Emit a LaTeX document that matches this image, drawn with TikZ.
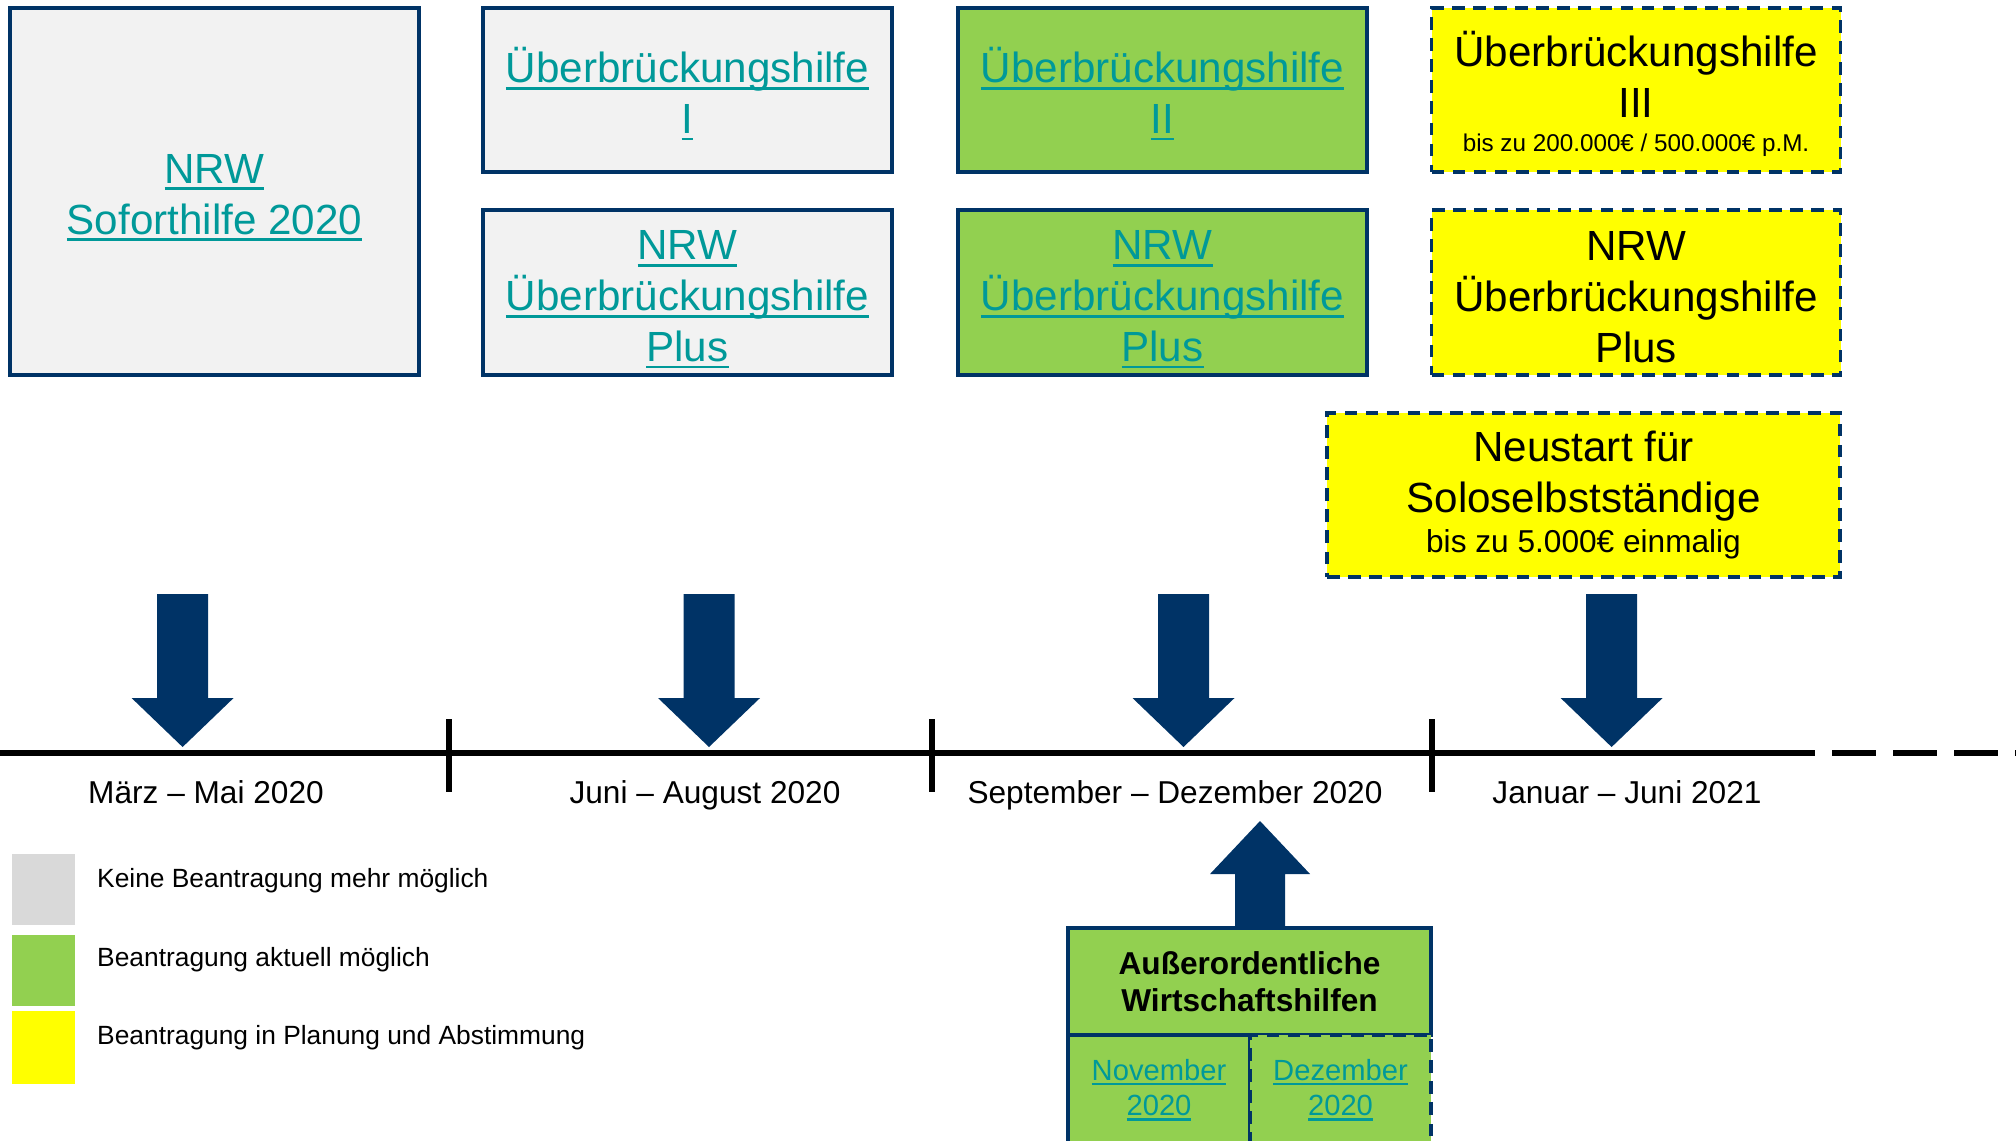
\documentclass[tikz,border=0pt]{standalone}
\usepackage{fontspec}
\setmainfont{Liberation Sans}

\definecolor{navy}{RGB}{0,51,102}
\definecolor{linkteal}{RGB}{0,153,153}
\definecolor{paleGrey}{RGB}{242,242,242}
\definecolor{legendGrey}{RGB}{217,217,217}
\definecolor{okGreen}{RGB}{146,208,80}
\definecolor{planYellow}{RGB}{255,255,0}

% underlined link text
\newcommand{\lnk}[1]{{\color{linkteal}\setbox0=\hbox{#1}\rlap{\rule[-0.16em]{\wd0}{0.07em}}\box0}}
% strut for the first line of a box
\newcommand{\topstrut}[1][12.3pt]{\rule{0pt}{#1}}

\begin{document}
\begin{tikzpicture}[
        greybox/.style={rectangle, draw=navy, line width=1.1pt, fill=paleGrey, minimum width=4.09cm, minimum height=1.64cm, inner sep=0pt, align=center, font=\fontsize{12}{14.5}\selectfont},
        greenbox/.style={greybox, fill=okGreen},
        yellowbox/.style={greybox, fill=planYellow, dash pattern=on 3.6pt off 2.4pt},
        periodlabel/.style={anchor=base, inner sep=0pt, font=\fontsize{9}{11}\selectfont},
        keysquare/.style={rectangle, minimum width=0.63cm, minimum height=0.71cm, inner sep=0pt},
        keytext/.style={anchor=west, inner sep=0pt, font=\fontsize{7.5}{9}\selectfont},
        blockarrow/.style={fill=navy}
    ]
    \useasboundingbox (0,0) rectangle (20.16,-11.40);

    % Programmes
    \node[greybox, minimum height=3.67cm] (soforthilfe) at (2.145,-1.915) {\topstrut[11.7pt]\lnk{NRW}\\\lnk{Soforthilfe 2020}};
    \node[greybox] (uebI) at (6.875,-0.90) {\topstrut\lnk{Überbrückungshilfe}\\\lnk{I}};
    \node[greybox, minimum height=1.65cm] (nrwplusI) at (6.875,-2.925) {\topstrut\lnk{NRW}\\\lnk{Überbrückungshilfe}\\\lnk{Plus}};
    \node[greenbox] (uebII) at (11.625,-0.90) {\topstrut\lnk{Überbrückungshilfe}\\\lnk{II}};
    \node[greenbox, minimum height=1.65cm] (nrwplusII) at (11.625,-2.925) {\topstrut\lnk{NRW}\\\lnk{Überbrückungshilfe}\\\lnk{Plus}};
    \node[yellowbox] (uebIII) at (16.36,-0.90) {\topstrut Überbrückungshilfe\\III\\[-4.7pt]{\fontsize{6.9}{8.5}\selectfont bis zu 200.000€ / 500.000€ p.M.}};
    \node[yellowbox, minimum height=1.65cm] (nrwplusIII) at (16.36,-2.925) {\topstrut[11pt]NRW\\Überbrückungshilfe\\Plus};
    \node[yellowbox, minimum width=5.13cm] (neustart) at (15.835,-4.95) {Neustart für\\Soloselbstständige\\[-3.1pt]{\fontsize{9}{11}\selectfont bis zu 5.000€ einmalig}};

    % Arrows onto the timeline
    \foreach \ax in {1.826, 7.09, 11.835, 16.116} {
        \fill[blockarrow] ({\ax-0.255},-5.94) -- ({\ax+0.255},-5.94) -- ({\ax+0.255},-6.98) -- ({\ax+0.51},-6.98)
            -- (\ax,-7.47) -- ({\ax-0.51},-6.98) -- ({\ax-0.255},-6.98) -- cycle;
    }

    % Timeline
    \draw[line width=1.8pt] (0,-7.53) -- (18.15,-7.53);
    \draw[line width=1.8pt, dash pattern=on 0.44cm off 0.17cm] (18.32,-7.53) -- (20.16,-7.53);
    \foreach \tx in {4.49, 9.32, 14.32}
        \draw[line width=1.6pt] (\tx,-7.19) -- (\tx,-7.92);

    \node[periodlabel] (maerz) at (2.06,-8.03) {März – Mai 2020};
    \node[periodlabel] (juni) at (7.05,-8.03) {Juni – August 2020};
    \node[periodlabel] (september) at (11.75,-8.03) {September – Dezember 2020};
    \node[periodlabel] (januar) at (16.27,-8.03) {Januar – Juni 2021};

    % Ausserordentliche Wirtschaftshilfen
    \node[greenbox, minimum width=3.63cm, minimum height=1.07cm, font=\bfseries\fontsize{9}{10.6}\selectfont] (wirtschaft) at (12.495,-9.815) {Außerordentliche\\Wirtschaftshilfen};
    \node[greenbox, minimum width=1.82cm, minimum height=1.10cm, font=\fontsize{8.3}{10}\selectfont] (november) at (11.59,-10.90) {\lnk{November}\\\lnk{2020}};
    \node[greenbox, dash pattern=on 3.6pt off 2.4pt, minimum width=1.81cm, minimum height=1.10cm, font=\fontsize{8.3}{10}\selectfont] (dezember) at (13.405,-10.90) {\lnk{Dezember}\\\lnk{2020}};
    \fill[blockarrow] (12.35,-9.26) -- (12.35,-8.74) -- (12.10,-8.74) -- (12.60,-8.21) -- (13.10,-8.74) -- (12.85,-8.74) -- (12.85,-9.26) -- cycle;

    % Legend
    \node[keysquare, fill=legendGrey] (keyGrey) at (0.435,-8.89) {};
    \node[keysquare, fill=okGreen] (keyGreen) at (0.435,-9.70) {};
    \node[keysquare, fill=planYellow, minimum height=0.73cm] (keyYellow) at (0.435,-10.47) {};
    \node[keytext] (textGrey) at (0.965,-8.805) {Keine Beantragung mehr möglich};
    \node[keytext] (textGreen) at (0.965,-9.595) {Beantragung aktuell möglich};
    \node[keytext] (textYellow) at (0.965,-10.375) {Beantragung in Planung und Abstimmung};

\end{tikzpicture}
\end{document}
